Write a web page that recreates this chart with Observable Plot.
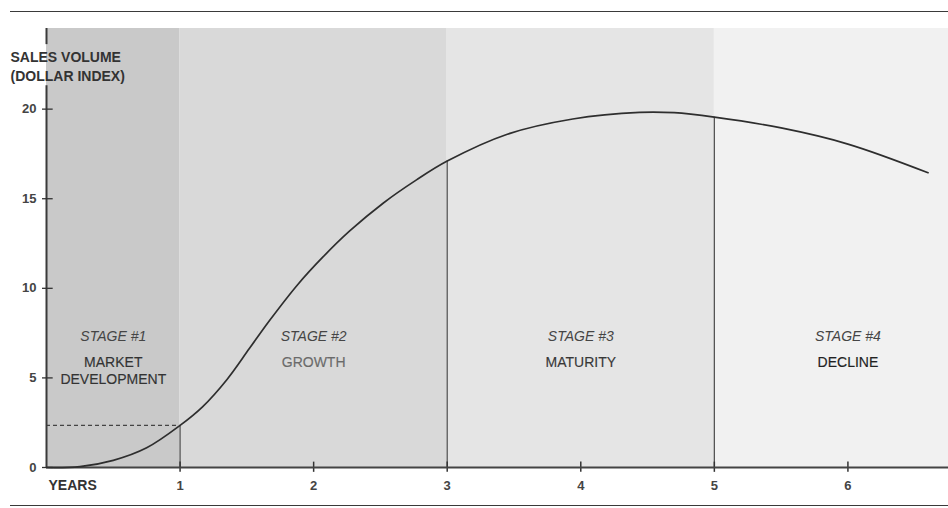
<!DOCTYPE html>
<html>
<head>
<meta charset="utf-8">
<script src="https://cdn.jsdelivr.net/npm/d3@7"></script>
<script src="https://cdn.jsdelivr.net/npm/@observablehq/plot@0.6"></script>
<style>
  html, body { margin: 0; padding: 0; background: #fff; }
  #wrap { position: relative; width: 948px; height: 508px; overflow: hidden; }
  #wrap svg { position: absolute; left: 0; top: 0; }
  .hr { position: absolute; left: 10px; right: 0; height: 0; border-top: 1.6px solid #3a3a3a; }
</style>
</head>
<body>
<div id="wrap">
  <div class="hr" style="top:11px"></div>
  <div class="hr" style="top:505px"></div>
</div>
<script>
// Product life cycle: sales volume (dollar index) over years
const years = [0, 0.25, 0.5, 0.75, 1, 1.17, 1.35, 1.52, 1.67, 1.88, 2.07, 2.27, 2.52, 2.77, 3, 3.45, 3.94, 4.44, 4.7, 5, 5.5, 6, 6.6];
const sales = [0, 0.05, 0.4, 1.1, 2.35, 3.4, 4.9, 6.65, 8.2, 10.2, 11.75, 13.2, 14.75, 16.05, 17.1, 18.6, 19.45, 19.82, 19.8, 19.55, 18.95, 18.05, 16.45];

// Stage boundaries (years) and labels
const stageStart = [0, 1, 3, 5];
const stageEnd = [1, 3, 5, 6.753];
const stageNames = ["STAGE #1", "STAGE #2", "STAGE #3", "STAGE #4"];
const stageTitles = ["MARKET\nDEVELOPMENT", "GROWTH", "MATURITY", "DECLINE"];
const stageLabelYear = [0.5, 2, 4, 6];

// Axis ticks
const yTicks = [0, 5, 10, 15, 20];
const xTicks = [1, 2, 3, 4, 5, 6];

const stageFill = ["#c9c9c9", "#d9d9d9", "#e5e5e5", "#f1f1f1"];
const stageInk = ["#333", "#6a6a6a", "#383838", "#222"];

const curve = years.map((x, i) => ({x, y: sales[i]}));
const stages = stageStart.map((s, i) => ({
  x1: s, x2: stageEnd[i], name: stageNames[i], title: stageTitles[i],
  lx: stageLabelYear[i], fill: stageFill[i], ink: stageInk[i]
}));
const boundaries = curve.filter(d => stageStart.includes(d.x) && d.x > 0);
const ySpan = [0, 24.5];

const font = "'Liberation Sans', Arial, Helvetica, sans-serif";

const chart = Plot.plot({
  width: 948,
  height: 508,
  marginLeft: 46,
  marginRight: 0,
  marginTop: 28,
  marginBottom: 41,
  style: {fontFamily: font, background: "transparent", overflow: "visible"},
  x: {domain: [0, 6.753], axis: null},
  y: {domain: ySpan, axis: null},
  marks: [
    // stage shading
    Plot.rectX(stages, {x1: "x1", x2: "x2", y1: ySpan[0], y2: ySpan[1], fill: "fill"}),
    // stage labels
    Plot.text(stages, {x: "lx", y: 7.3, text: "name", fontStyle: "italic", fontSize: 14, fill: "#454545", letterSpacing: "-0.2px"}),
    Plot.text(stages, {x: "lx", y: 7.3, dy: 19, text: "title", lineAnchor: "top", lineHeight: 1.17, fontSize: 14, fill: "ink", stroke: "ink", strokeWidth: 0.15, letterSpacing: "-0.2px"}),
    // dashed guide to the stage 1 sales level
    Plot.ruleY(boundaries.slice(0, 1), {y: "y", x1: 0, x2: "x", stroke: "#444", strokeWidth: 1.2, strokeDasharray: "4,3"}),
    // stage boundary verticals up to the curve
    Plot.ruleX(boundaries, {x: "x", y1: 0, y2: "y", stroke: "#555", strokeWidth: 1.3}),
    // x ticks
    Plot.ruleX(xTicks, {x: d => d, y1: -0.27, y2: 0.3, stroke: "#333", strokeWidth: 1.5}),
    // x axis line
    Plot.ruleY([0], {stroke: "#444", strokeWidth: 2}),
    // y axis line, broken around its title
    Plot.ruleX([{a: 24.5, b: 23.6}, {a: 21.3, b: 0}], {x: 0, y1: "a", y2: "b", stroke: "#3a3a3a", strokeWidth: 2}),
    // y ticks
    Plot.ruleY(yTicks, {y: d => d, x1: 0, x2: 0.08, dx: -4, stroke: "#333", strokeWidth: 1.3}),
    Plot.text(yTicks, {y: d => d, frameAnchor: "left", dx: -10, textAnchor: "end", fontSize: 13, fontWeight: "bold", fill: "#444"}),
    Plot.text(xTicks, {x: d => d, frameAnchor: "bottom", dy: 22, fontSize: 13, fontWeight: "bold", fill: "#444"}),
    // axis titles
    Plot.text(["YEARS"], {frameAnchor: "bottom-left", dx: 2, dy: 22, textAnchor: "start", fontSize: 14, fontWeight: "bold", fill: "#333", letterSpacing: "-0.3px"}),
    Plot.text(["SALES VOLUME\n(DOLLAR INDEX)"], {frameAnchor: "top-left", dx: -36, dy: 21, textAnchor: "start", lineAnchor: "top", lineHeight: 1.3, fontSize: 14, fontWeight: "bold", fill: "#333", letterSpacing: "-0.4px"}),
    // sales curve
    Plot.line(curve, {x: "x", y: "y", curve: "catmull-rom", stroke: "#2e2e2e", strokeWidth: 1.7})
  ]
});

document.getElementById("wrap").prepend(chart);
</script>
</body>
</html>
